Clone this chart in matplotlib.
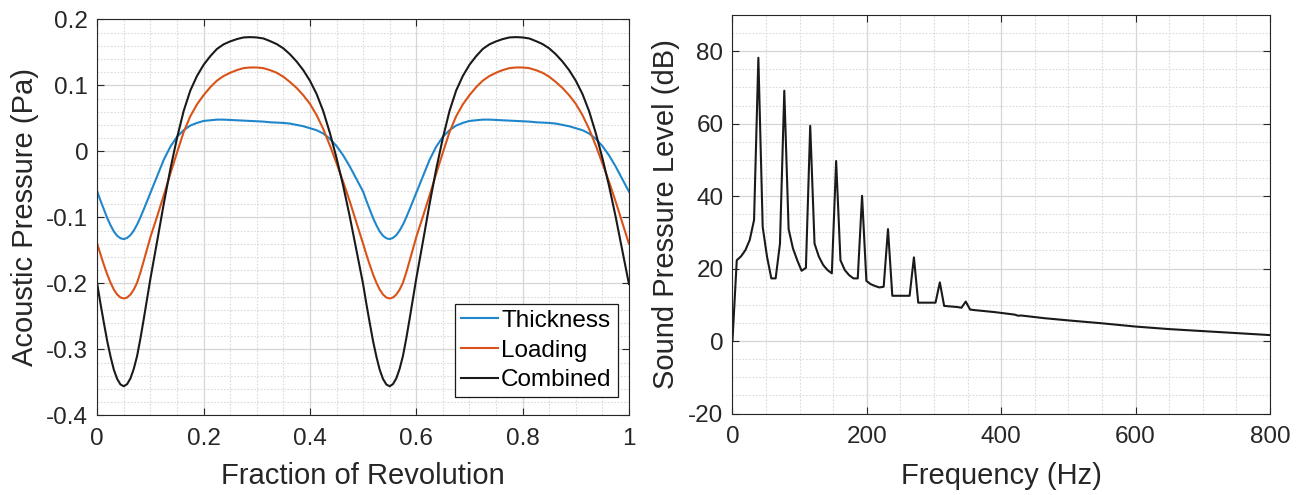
import numpy as np
import matplotlib
matplotlib.use('Agg')
import matplotlib.pyplot as plt
from matplotlib.ticker import MultipleLocator, FormatStrFormatter

plt.rcParams['font.family'] = ['Liberation Sans', 'DejaVu Sans']
plt.rcParams['axes.unicode_minus'] = False

# ---- left panel: pressure time history over one revolution ----
fraction = np.linspace(0, 1, 81)

thickness = [-0.061, -0.088, -0.112, -0.128, -0.133, -0.127, -0.111, -0.088, -0.063, -0.038,
             -0.013, 0.007, 0.022, 0.032, 0.039, 0.043, 0.046, 0.047, 0.048, 0.048,
             0.0475, 0.047, 0.0465, 0.046, 0.0455, 0.045, 0.044, 0.0435, 0.043, 0.042,
             0.040, 0.038, 0.035, 0.032, 0.027, 0.019, 0.008, -0.006, -0.023, -0.042,
             -0.061, -0.088, -0.112, -0.128, -0.133, -0.127, -0.111, -0.088, -0.063, -0.038,
             -0.013, 0.007, 0.022, 0.032, 0.039, 0.043, 0.046, 0.047, 0.048, 0.048,
             0.0475, 0.047, 0.0465, 0.046, 0.0455, 0.045, 0.044, 0.0435, 0.043, 0.042,
             0.040, 0.038, 0.035, 0.032, 0.027, 0.019, 0.008, -0.006, -0.023, -0.042,
             -0.061]

loading = [-0.140, -0.172, -0.199, -0.217, -0.223, -0.217, -0.199, -0.166, -0.130, -0.099,
           -0.067, -0.034, -0.002, 0.029, 0.053, 0.071, 0.085, 0.097, 0.107, 0.114,
           0.119, 0.123, 0.126, 0.127, 0.127, 0.126, 0.123, 0.119, 0.113, 0.105,
           0.096, 0.085, 0.072, 0.055, 0.034, 0.009, -0.018, -0.046, -0.076, -0.108,
           -0.140, -0.172, -0.199, -0.217, -0.223, -0.217, -0.199, -0.166, -0.130, -0.099,
           -0.067, -0.034, -0.002, 0.029, 0.053, 0.071, 0.085, 0.097, 0.107, 0.114,
           0.119, 0.123, 0.126, 0.127, 0.127, 0.126, 0.123, 0.119, 0.113, 0.105,
           0.096, 0.085, 0.072, 0.055, 0.034, 0.009, -0.018, -0.046, -0.076, -0.108,
           -0.140]

combined = [-0.201, -0.260, -0.311, -0.345, -0.356, -0.344, -0.310, -0.254, -0.193, -0.137,
            -0.080, -0.027, 0.020, 0.061, 0.092, 0.114, 0.131, 0.144, 0.155, 0.162,
            0.1665, 0.170, 0.1725, 0.173, 0.1725, 0.171, 0.167, 0.1625, 0.156, 0.147,
            0.136, 0.123, 0.107, 0.087, 0.061, 0.028, -0.010, -0.052, -0.099, -0.150,
            -0.201, -0.260, -0.311, -0.345, -0.356, -0.344, -0.310, -0.254, -0.193, -0.137,
            -0.080, -0.027, 0.020, 0.061, 0.092, 0.114, 0.131, 0.144, 0.155, 0.162,
            0.1665, 0.170, 0.1725, 0.173, 0.1725, 0.171, 0.167, 0.1625, 0.156, 0.147,
            0.136, 0.123, 0.107, 0.087, 0.061, 0.028, -0.010, -0.052, -0.099, -0.150,
            -0.201]

# extra readings in the two troughs, where the curves bend quickly
trough_fraction = [0.00625, 0.01875, 0.03125, 0.04375, 0.05625, 0.06875, 0.08125, 0.09375,
                   0.50625, 0.51875, 0.53125, 0.54375, 0.55625, 0.56875, 0.58125, 0.59375]
trough_thickness = [-0.075, -0.101, -0.1215, -0.1318, -0.1312, -0.120, -0.100, -0.0755,
                    -0.075, -0.101, -0.1215, -0.1318, -0.1312, -0.120, -0.100, -0.0755]
trough_loading = [-0.1565, -0.1865, -0.2095, -0.2215, -0.2215, -0.2095, -0.1835, -0.148,
                  -0.1565, -0.1865, -0.2095, -0.2215, -0.2215, -0.2095, -0.1835, -0.148]
trough_combined = [-0.2315, -0.2875, -0.331, -0.3533, -0.3527, -0.3295, -0.2835, -0.2235,
                   -0.2315, -0.2875, -0.331, -0.3533, -0.3527, -0.3295, -0.2835, -0.2235]

# ---- right panel: SPL spectrum ----
bin_width_hz = 6.43
spl_bins = [0, 22.3, 23.4, 25.1, 27.9, 33.4, 78.2, 31.5, 23.3, 17.3,
            17.3, 26.9, 69.1, 30.9, 25.6, 22.3, 19.4, 20.2, 59.4, 26.9,
            23.3, 21.0, 19.6, 18.7, 49.7, 22.3, 19.6, 18.2, 17.3, 17.3,
            40.1, 16.6, 15.7, 15.2, 14.8, 15.0, 30.9, 12.5, 12.5, 12.5,
            12.5, 12.5, 23.1, 10.6, 10.6, 10.6, 10.6, 10.6, 16.2, 9.7,
            9.6, 9.5, 9.4, 9.2, 10.9, 8.7]
tail_freq = [360, 390, 420, 425, 430, 465, 500, 550, 600, 650, 700, 750, 800]
tail_spl = [8.55, 8.0, 7.3, 7.0, 7.05, 6.3, 5.7, 4.9, 4.0, 3.3, 2.75, 2.2, 1.65]

freq = np.concatenate([np.arange(len(spl_bins)) * bin_width_hz, tail_freq])
spl = np.concatenate([spl_bins, tail_spl])

# merge the coarse and trough readings into one ordered series per curve
x_all = np.concatenate([fraction, trough_fraction])
order = np.argsort(x_all)
x_all = x_all[order]
series = [
    ('Thickness', np.concatenate([thickness, trough_thickness])[order], '#1f86cc'),
    ('Loading', np.concatenate([loading, trough_loading])[order], '#D95319'),
    ('Combined', np.concatenate([combined, trough_combined])[order], '#1a1a1a'),
]

ink = '0.15'
txt = '#262626'

fig = plt.figure(figsize=(13.07, 4.95), dpi=100)
ax1 = fig.add_axes([0.0744, 0.161, 0.4068, 0.800])
ax2 = fig.add_axes([0.5604, 0.1646, 0.4113, 0.8051])


def matlab_style(ax):
    ax.set_axisbelow(True)
    ax.grid(True, which='major', color='#d6d6d6', lw=0.9, ls='-')
    ax.grid(True, which='minor', color='#dadada', lw=0.8, ls=(0, (1.5, 1.5)))
    ax.tick_params(which='major', direction='in', top=True, right=True,
                   length=5, width=0.8, color=ink, labelsize=17.5, labelcolor=txt)
    ax.tick_params(which='minor', length=0)
    ax.tick_params(axis='x', pad=9)
    ax.tick_params(axis='y', pad=6.5)
    for s in ax.spines.values():
        s.set_color(ink)
        s.set_linewidth(0.8)


for name, vals, col in series:
    ax1.plot(x_all, vals, color=col, lw=1.5, label=name)
ax1.set_xlim(0, 1)
ax1.set_ylim(-0.4, 0.2)
ax1.xaxis.set_major_locator(MultipleLocator(0.2))
ax1.xaxis.set_minor_locator(MultipleLocator(0.05))
ax1.yaxis.set_major_locator(MultipleLocator(0.1))
ax1.yaxis.set_minor_locator(MultipleLocator(0.02))
ax1.xaxis.set_major_formatter(FormatStrFormatter('%g'))
ax1.yaxis.set_major_formatter(FormatStrFormatter('%g'))
matlab_style(ax1)
ax1.set_xlabel('Fraction of Revolution', fontsize=21, color=txt)
ax1.set_ylabel('Acoustic Pressure (Pa)', fontsize=21, color=txt)
ax1.xaxis.set_label_coords(0.5, -0.153)
ax1.xaxis.label.set_va('center')
ax1.yaxis.set_label_coords(-0.136, 0.5)
ax1.yaxis.label.set_va('center')
leg = ax1.legend(loc='lower right', bbox_to_anchor=(0.979, 0.045), fontsize=17.5,
                 frameon=True, fancybox=False, framealpha=1, edgecolor='#1a1a1a',
                 handlelength=1.5, handletextpad=0.15, labelspacing=0.32,
                 borderpad=0.25, borderaxespad=0)
leg.get_frame().set_linewidth(0.9)

ax2.plot(freq, spl, color='#1a1a1a', lw=1.5)
ax2.set_xlim(0, 800)
ax2.set_ylim(-20, 90)
ax2.set_yticks(np.arange(-20, 81, 20))
ax2.xaxis.set_major_locator(MultipleLocator(200))
ax2.xaxis.set_minor_locator(MultipleLocator(50))
ax2.yaxis.set_minor_locator(MultipleLocator(5))
matlab_style(ax2)
ax2.set_xlabel('Frequency (Hz)', fontsize=21, color=txt)
ax2.set_ylabel('Sound Pressure Level (dB)', fontsize=21, color=txt)
ax2.xaxis.set_label_coords(0.5, -0.157)
ax2.xaxis.label.set_va('center')
ax2.yaxis.set_label_coords(-0.124, 0.5)
ax2.yaxis.label.set_va('center')

fig.savefig('out.png', dpi=100)
